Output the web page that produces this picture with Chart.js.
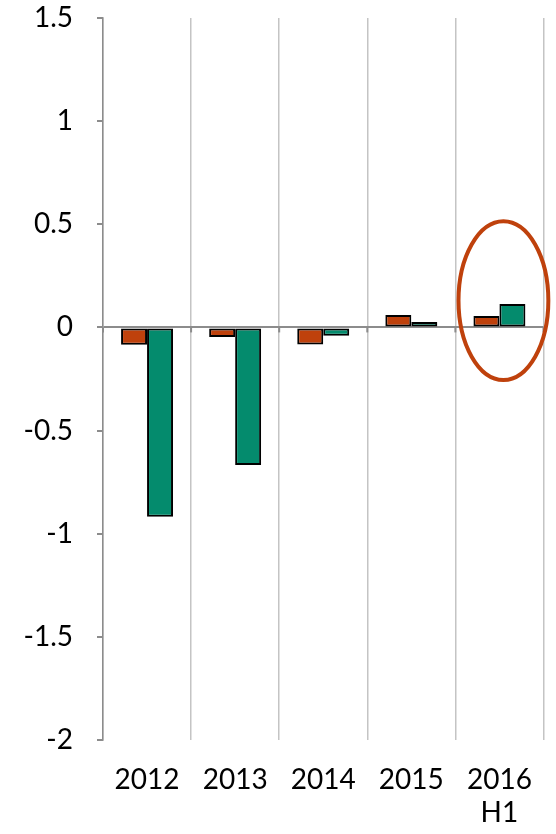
<!DOCTYPE html>
<html>
<head>
<meta charset="utf-8">
<script src="https://cdn.jsdelivr.net/npm/chart.js@4/dist/chart.umd.min.js"></script>
<style>
html,body{margin:0;padding:0;background:#fff;}
#wrap{width:556px;height:834px;position:relative;}
</style>
</head>
<body>
<div id="wrap"><canvas id="c" width="556" height="834"></canvas></div>
<script>
const categories = [["2012"], ["2013"], ["2014"], ["2015"], ["2016", "H1"]];
const seriesA = [-0.084, -0.047, -0.083, 0.060, 0.055];
const seriesB = [-0.918, -0.667, -0.040, 0.026, 0.114];
const yMin = -2, yMax = 1.5, yStep = 0.5;
const highlightIndex = 4;

const ORANGE = '#BF410C';
const GREEN = '#048B6D';

const extras = {
  id: 'extras',
  afterDatasetsDraw(chart) {
    const ctx = chart.ctx, x = chart.scales.x, y = chart.scales.y;
    const y0 = y.getPixelForValue(0);
    const n = categories.length;
    const w = (x.right - x.left) / n;
    ctx.save();
    ctx.strokeStyle = '#8c8c8c';
    ctx.lineWidth = 2;
    for (let i = 0; i <= n; i++) {
      const px = x.left + i * w;
      ctx.beginPath(); ctx.moveTo(px, y0); ctx.lineTo(px, y0 + 5); ctx.stroke();
    }
    const cx = x.getPixelForValue(highlightIndex) + 4;
    const cy = y.getPixelForValue(0.13);
    const rx = w * 0.51;
    const ry = (y.getPixelForValue(0) - y.getPixelForValue(0.385));
    ctx.strokeStyle = ORANGE;
    ctx.lineWidth = 4;
    ctx.beginPath();
    ctx.ellipse(cx, cy, rx, ry, 0, 0, Math.PI * 2);
    ctx.stroke();
    ctx.restore();
  }
};

new Chart(document.getElementById('c'), {
  type: 'bar',
  data: {
    labels: categories,
    datasets: [
      { data: seriesA, backgroundColor: ORANGE, borderColor: '#000', borderWidth: 2, borderSkipped: false },
      { data: seriesB, backgroundColor: GREEN, borderColor: '#000', borderWidth: 2, borderSkipped: false }
    ]
  },
  options: {
    responsive: false,
    animation: false,
    devicePixelRatio: 1,
    layout: { padding: { left: 0, right: 11, top: 18, bottom: 0 } },
    plugins: { legend: { display: false }, tooltip: { enabled: false } },
    datasets: { bar: { categoryPercentage: 0.59, barPercentage: 1.0 } },
    scales: {
      x: {
        offset: true,
        grid: { offset: true, color: '#c4c4c4', lineWidth: 1.5, drawTicks: false },
        border: { display: false },
        ticks: { color: '#000', font: { family: 'Lato', size: 28 }, padding: 23, maxRotation: 0, autoSkip: false },
        afterFit(s) { s.height = 94; s.paddingTop = 0; s.paddingBottom = 0; }
      },
      y: {
        min: yMin, max: yMax,
        grid: {
          color: (c) => (c.tick && c.tick.value === 0) ? '#8c8c8c' : 'rgba(0,0,0,0)',
          lineWidth: 2,
          tickColor: '#8c8c8c',
          tickLength: 6,
          drawTicks: true
        },
        border: { display: true, color: '#8c8c8c', width: 1.5 },
        ticks: { stepSize: yStep, color: '#000', font: { family: 'Lato', size: 28 }, padding: 24,
          callback: (v) => String(Math.round(v * 10) / 10) },
        afterFit(s) { s.width = 103; s.paddingTop = 0; s.paddingBottom = 0; }
      }
    }
  },
  plugins: [extras]
});
</script>
</body>
</html>
